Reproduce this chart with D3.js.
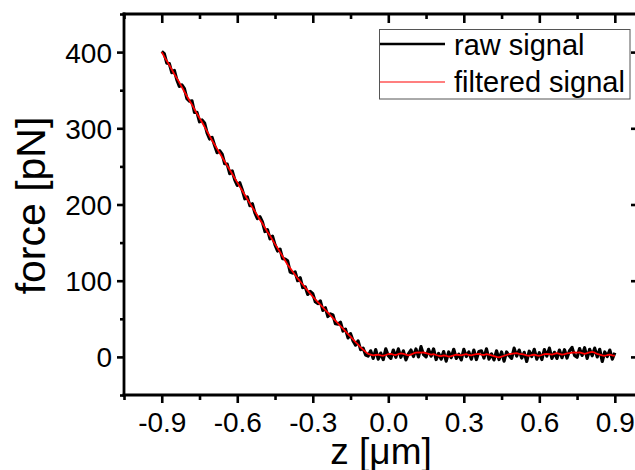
<!DOCTYPE html>
<html>
<head>
<meta charset="utf-8">
<script src="https://cdn.jsdelivr.net/npm/d3@7"></script>
<style>
  html, body { margin: 0; padding: 0; background: #fff; }
  svg { display: block; }
  text { font-family: "Liberation Sans", Arial, sans-serif; fill: #000; }
</style>
</head>
<body>
<svg id="chart" width="635" height="470"></svg>
<script>
// Piezo position z [µm], sampled every 10 nm
const zValues = [
  -0.90,-0.89,-0.88,-0.87,-0.86,-0.85,-0.84,-0.83,-0.82,-0.81,
  -0.80,-0.79,-0.78,-0.77,-0.76,-0.75,-0.74,-0.73,-0.72,-0.71,
  -0.70,-0.69,-0.68,-0.67,-0.66,-0.65,-0.64,-0.63,-0.62,-0.61,
  -0.60,-0.59,-0.58,-0.57,-0.56,-0.55,-0.54,-0.53,-0.52,-0.51,
  -0.50,-0.49,-0.48,-0.47,-0.46,-0.45,-0.44,-0.43,-0.42,-0.41,
  -0.40,-0.39,-0.38,-0.37,-0.36,-0.35,-0.34,-0.33,-0.32,-0.31,
  -0.30,-0.29,-0.28,-0.27,-0.26,-0.25,-0.24,-0.23,-0.22,-0.21,
  -0.20,-0.19,-0.18,-0.17,-0.16,-0.15,-0.14,-0.13,-0.12,-0.11,
  -0.10,-0.09,-0.08,-0.07,-0.06,-0.05,-0.04,-0.03,-0.02,-0.01,
   0.00, 0.01, 0.02, 0.03, 0.04, 0.05, 0.06, 0.07, 0.08, 0.09,
   0.10, 0.11, 0.12, 0.13, 0.14, 0.15, 0.16, 0.17, 0.18, 0.19,
   0.20, 0.21, 0.22, 0.23, 0.24, 0.25, 0.26, 0.27, 0.28, 0.29,
   0.30, 0.31, 0.32, 0.33, 0.34, 0.35, 0.36, 0.37, 0.38, 0.39,
   0.40, 0.41, 0.42, 0.43, 0.44, 0.45, 0.46, 0.47, 0.48, 0.49,
   0.50, 0.51, 0.52, 0.53, 0.54, 0.55, 0.56, 0.57, 0.58, 0.59,
   0.60, 0.61, 0.62, 0.63, 0.64, 0.65, 0.66, 0.67, 0.68, 0.69,
   0.70, 0.71, 0.72, 0.73, 0.74, 0.75, 0.76, 0.77, 0.78, 0.79,
   0.80, 0.81, 0.82, 0.83, 0.84, 0.85, 0.86, 0.87, 0.88, 0.89,
   0.90
];

// Measured force [pN] (unfiltered)
const rawForce = [
  401,398,385.5,385,373,376,363.5,355,357,352,
  339,335.5,336,321,321,308.5,311,307,294,286,
  288,277.5,268,270.5,266,253.5,253,240.5,244,232.5,
  225,228.5,219,207.5,210,198.5,201,189,181.5,184,
  177,164.5,167,155,158.5,147,139,141.5,129,128.5,
  126,111.5,110,111.5,100,104,91,92,82,86,
  83,72.5,70,73.5,61,64.5,53,56.5,55,43.5,
  43,45.5,34,36.5,25,30.5,21,15.5,21,9.5,
  11.5,2.5,1,8,-2,9.5,-3,5,-3.5,10.5,
  1.5,-2,9,-0.5,10.5,-0.5,8,-4,4,9,
  0.5,10.5,0,13.5,3,0,10,1,10.5,-3.5,
  4.5,-3,7,-5.5,6.5,-1,10,-2,3.5,-4,
  10,0.5,6.5,-3,9,-3.5,7,8,-1.5,10.5,
  -3,4,-4,8,-3.5,6.5,-5.5,6.5,1.5,-2,
  11.5,1,9,-1.5,6,-6,7.5,0.5,10,-3,
  5.5,-3.5,9.5,1,11.5,-2,6,-2,9,-1,
  9.5,-1.5,8,12.5,2,-0.5,11,2,12,-2,
  10,1.5,11.5,0,10,-6,6.5,0.5,9,-3,
  5.5
];

// Low-pass filtered force [pN]
const filteredForce = [
  400,394,388.5,383,377,371,365.5,360,354,348,
  342,336.5,331,325,319,313.5,308,302,296,290,
  284,278.5,273,267.5,262,256.5,251,245.5,240,234.5,
  229,223.5,218,212.5,207,201.5,196,191,185.5,180,
  175,169.5,164,159,153.5,148,143,137.5,132,126.5,
  121,116.5,112,107.5,103,99,95,91,87,83,
  79,75.5,72,68.5,65,61.5,58,54.5,51,47.5,
  44,40.5,37,33.5,30,26.5,23,19.5,16,12.5,
  9.5,6.5,4,3,2,2.5,3,2,1.5,2.5,
  3.5,4,3,2.5,3.5,4.5,4,3,2,3,
  4.5,5.5,6,5.5,6,5,4,3,3.5,2.5,
  1.5,1,2,1.5,0.5,1,2,3,2.5,2,
  3,3.5,2.5,2,3,3.5,4,3,2.5,3.5,
  3,2,1,0,-0.5,0.5,1.5,2.5,3.5,4,
  4.5,5,4,3.5,3,2,1.5,2.5,3,2,
  1.5,2.5,3.5,4,3.5,3,4,5,4,3,
  3.5,4.5,5,5.5,6,5.5,6,5,4,5,
  6,6.5,5.5,4,3,2,1.5,2.5,3,2,
  1.5
];

const seriesNames = ["raw signal", "filtered signal"];
const seriesColors = ["#000000", "#ff0000"];

const xTickValues = [-0.9, -0.6, -0.3, 0.0, 0.3, 0.6, 0.9];
const xTickLabels = ["-0.9", "-0.6", "-0.3", "0.0", "0.3", "0.6", "0.9"];
const xMinorTicks = [-1.05, -0.75, -0.45, -0.15, 0.15, 0.45, 0.75];
const yTickValues = [0, 100, 200, 300, 400];
const yTickLabels = ["0", "100", "200", "300", "400"];
const yMinorTicks = [-50, 50, 150, 250, 350, 450];

const xTitle = "z [\u03bcm]";
const yTitle = "force [pN]";

// ---- layout ----
const plot = { left: 124, right: 640, top: 14, bottom: 395 };

const svg = d3.select("#chart");

const x = d3.scaleLinear().domain([-1.05, 1.0]).range([plot.left, plot.right]);
const y = d3.scaleLinear().domain([-50, 450]).range([plot.bottom, plot.top]);

const rawPts = zValues.map((z, i) => [z, rawForce[i]]);
const filtPts = zValues.map((z, i) => [z, filteredForce[i]]);

const line = d3.line().x(d => x(d[0])).y(d => y(d[1]));

// traces
svg.append("path")
  .datum(rawPts)
  .attr("fill", "none")
  .attr("stroke", seriesColors[0])
  .attr("stroke-width", 3.2)
  .attr("stroke-linejoin", "round")
  .attr("d", line);

svg.append("path")
  .datum(filtPts)
  .attr("fill", "none")
  .attr("stroke", seriesColors[1])
  .attr("stroke-width", 1.8)
  .attr("stroke-linejoin", "round")
  .attr("d", line);

// ---- axes ----
function styleAxis(g) {
  g.select("path.domain").remove();
  g.selectAll(".tick line").attr("stroke", "#000").attr("stroke-width", 2.6);
  g.selectAll(".tick text").style("font-size", "28px");
  g.attr("font-family", null).attr("font-size", null);
}

function tickAxis(axisFn, scale, values, size, tx, ty, labels) {
  const ax = axisFn(scale).tickValues(values).tickSize(size).tickSizeOuter(0);
  ax.tickFormat(labels ? (d, i) => labels[i] : "");
  const g = svg.append("g").attr("transform", `translate(${tx},${ty})`).call(ax);
  styleAxis(g);
  return g;
}

// bottom (outward)
const gBottom = tickAxis(d3.axisBottom, x, xTickValues, 8, 0, plot.bottom, xTickLabels);
gBottom.selectAll(".tick text").attr("dy", null).attr("y", 37);
tickAxis(d3.axisBottom, x, xMinorTicks, 5, 0, plot.bottom);

// top (inward)
tickAxis(d3.axisBottom, x, xTickValues, 9, 0, plot.top);
tickAxis(d3.axisBottom, x, xMinorTicks, 5, 0, plot.top);

// left (outward)
const gLeft = tickAxis(d3.axisLeft, y, yTickValues, 7, plot.left, 0, yTickLabels);
gLeft.selectAll(".tick text").attr("x", -12).attr("dy", "0.36em");
tickAxis(d3.axisLeft, y, yMinorTicks, 4, plot.left, 0);

// right (inward)
tickAxis(d3.axisLeft, y, yTickValues, 9, plot.right, 0);
tickAxis(d3.axisLeft, y, yMinorTicks, 5, plot.right, 0);

// frame lines
const frame = svg.append("g").attr("stroke", "#000").attr("stroke-width", 2.8);
frame.append("line").attr("x1", plot.left - 1.4).attr("x2", plot.right + 1)
  .attr("y1", plot.top).attr("y2", plot.top);
frame.append("line").attr("x1", plot.left - 1.4).attr("x2", plot.right + 1)
  .attr("y1", plot.bottom).attr("y2", plot.bottom);
frame.append("line").attr("x1", plot.left).attr("x2", plot.left)
  .attr("y1", plot.top - 1.4).attr("y2", plot.bottom + 1.4);
frame.append("line").attr("x1", plot.right).attr("x2", plot.right)
  .attr("y1", plot.top - 1.4).attr("y2", plot.bottom + 1.4);

// axis titles
svg.append("text")
  .attr("x", (plot.left + plot.right) / 2 - 1)
  .attr("y", 464)
  .attr("text-anchor", "middle")
  .style("font-size", "37px")
  .text(xTitle);

svg.append("text")
  .attr("transform", `translate(45,${(plot.top + plot.bottom) / 2 + 1}) rotate(-90)`)
  .attr("text-anchor", "middle")
  .style("font-size", "41px")
  .text(yTitle);

// ---- legend ----
const legend = svg.append("g");
legend.append("rect")
  .attr("x", 379.5).attr("y", 29.5)
  .attr("width", 250.5).attr("height", 69.5)
  .attr("fill", "#fff")
  .attr("stroke", "#555")
  .attr("stroke-width", 1);

const legendRows = [
  { y: 44, base: 55, width: 2.4 },
  { y: 82, base: 92, width: 1.2 }
];
seriesNames.forEach((name, i) => {
  legend.append("line")
    .attr("x1", 380).attr("x2", 445)
    .attr("y1", legendRows[i].y).attr("y2", legendRows[i].y)
    .attr("stroke", seriesColors[i])
    .attr("stroke-width", legendRows[i].width);
  legend.append("text")
    .attr("x", 454).attr("y", legendRows[i].base)
    .style("font-size", "29px")
    .text(name);
});
</script>
</body>
</html>
